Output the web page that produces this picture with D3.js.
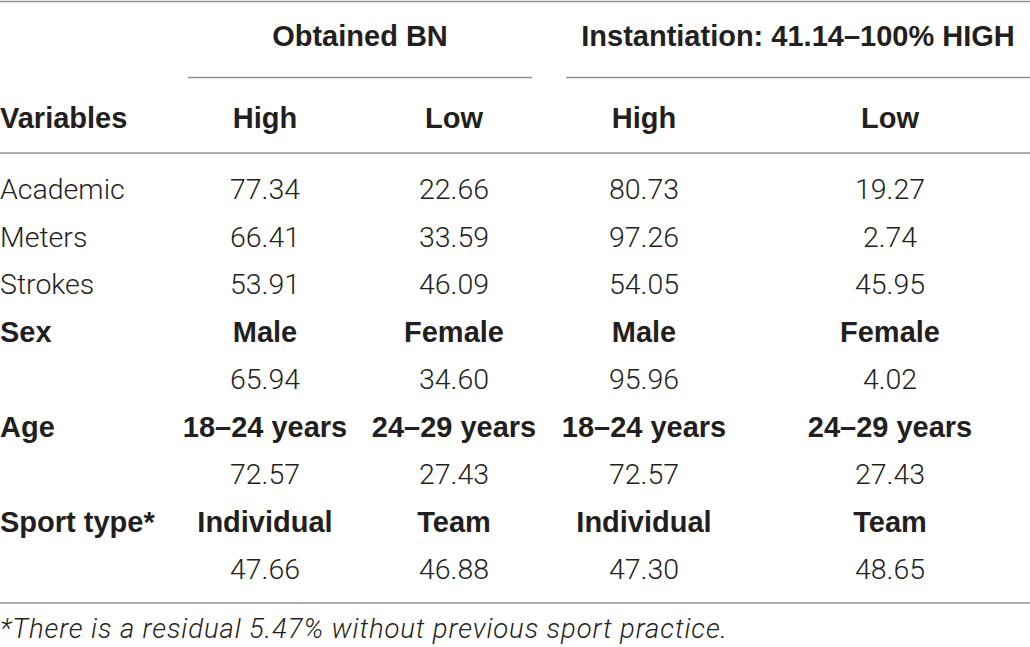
<!DOCTYPE html>
<html>
<head>
<meta charset="utf-8">
<script src="https://cdn.jsdelivr.net/npm/d3@7"></script>
<style>
  body { margin: 0; background: #fff; }
  svg text { fill: #231f20; }
  .bold { font-family: "Liberation Sans", Arial, sans-serif; font-weight: 700; font-size: 29px; }
  .reg { font-family: Roboto, "Liberation Sans", sans-serif; font-weight: 300; font-size: 28.5px; }
  .note { font-family: Roboto, "Liberation Sans", sans-serif; font-weight: 300; font-style: italic; font-size: 27.5px; }
</style>
</head>
<body>
<div id="chart"></div>
<script>
// table content
const groups = ["Obtained BN", "Instantiation: 41.14\u2013100% HIGH"];
const columns = ["High", "Low", "High", "Low"];
const rowLabels = ["Academic", "Meters", "Strokes", "Sex", "", "Age", "", "Sport type*", ""];
const boldRows = [false, false, false, true, false, true, false, true, false];
const cells = [
  ["77.34", "22.66", "80.73", "19.27"],
  ["66.41", "33.59", "97.26", "2.74"],
  ["53.91", "46.09", "54.05", "45.95"],
  ["Male", "Female", "Male", "Female"],
  ["65.94", "34.60", "95.96", "4.02"],
  ["18\u201324 years", "24\u201329 years", "18\u201324 years", "24\u201329 years"],
  ["72.57", "27.43", "72.57", "27.43"],
  ["Individual", "Team", "Individual", "Team"],
  ["47.66", "46.88", "47.30", "48.65"]
];
const footnote = "*There is a residual 5.47% without previous sport practice.";

const width = 1030, height = 647;

const svg = d3.select("#chart").append("svg")
    .attr("width", width)
    .attr("height", height);

// column centres and group spans
const xCol = d3.scaleOrdinal()
    .domain(d3.range(columns.length))
    .range([265, 454, 644, 890]);
const xGroup = d3.scaleOrdinal()
    .domain(d3.range(groups.length))
    .range([360, 798]);
const groupSpan = [[188, 532], [566, 1030]];

// row baselines
const yRow = d3.scalePoint()
    .domain(d3.range(rowLabels.length))
    .range([199, 579]);

const lineColor = "#939393";

// horizontal rules
const rules = [[0, width, 1.5], [0, width, 153], [0, width, 603]];
svg.selectAll(".rule")
  .data(rules)
  .join("line")
    .attr("class", "rule")
    .attr("x1", d => d[0]).attr("x2", d => d[1])
    .attr("y1", d => d[2]).attr("y2", d => d[2])
    .attr("stroke", lineColor)
    .attr("stroke-width", 1.5);

// group headers + underline
svg.selectAll(".grp")
  .data(groups)
  .join("text")
    .attr("class", "bold grp")
    .attr("x", (d, i) => xGroup(i))
    .attr("y", 46)
    .attr("text-anchor", "middle")
    .text(d => d);

svg.selectAll(".grpline")
  .data(groupSpan)
  .join("line")
    .attr("class", "grpline")
    .attr("x1", d => d[0]).attr("x2", d => d[1])
    .attr("y1", 77.5).attr("y2", 77.5)
    .attr("stroke", lineColor)
    .attr("stroke-width", 1.5);

// column header row
svg.append("text")
    .attr("class", "bold")
    .attr("x", 0)
    .attr("y", 128)
    .text("Variables");

svg.selectAll(".colhead")
  .data(columns)
  .join("text")
    .attr("class", "bold colhead")
    .attr("x", (d, i) => xCol(i))
    .attr("y", 128)
    .attr("text-anchor", "middle")
    .text(d => d);

// body
const rows = svg.selectAll(".row")
  .data(cells)
  .join("g")
    .attr("class", "row")
    .attr("transform", (d, i) => `translate(0,${yRow(i)})`);

rows.append("text")
    .attr("class", (d, i) => boldRows[i] ? "bold" : "reg")
    .attr("x", 0)
    .text((d, i) => rowLabels[i]);

rows.each(function(d, i) {
  d3.select(this).selectAll(".cell")
    .data(d)
    .join("text")
      .attr("class", "cell " + (boldRows[i] ? "bold" : "reg"))
      .attr("x", (v, j) => xCol(j))
      .attr("text-anchor", "middle")
      .text(v => v);
});

// footnote
svg.append("text")
    .attr("class", "note")
    .attr("x", 0)
    .attr("y", 638)
    .attr("textLength", 727)
    .attr("lengthAdjust", "spacing")
    .text(footnote);
</script>
</body>
</html>
